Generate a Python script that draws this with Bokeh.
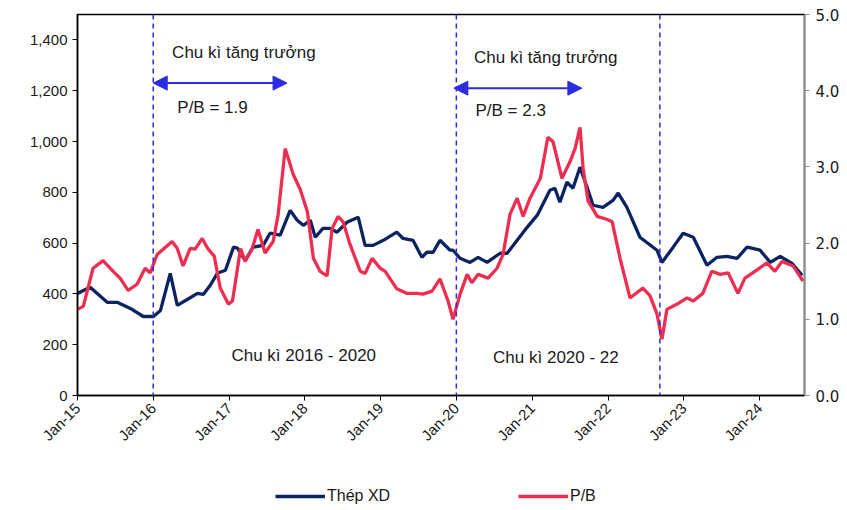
import math
import pandas as pd
from bokeh.plotting import figure
from bokeh.layouts import column
from bokeh.models import (ColumnDataSource, Range1d, LinearAxis, Span, Arrow,
                          NormalHead, Legend, FixedTicker, NumeralTickFormatter,
                          DatetimeTickFormatter)
from bokeh.core.properties import value
from bokeh.embed import file_html
from bokeh.resources import INLINE

# Thép XD (trục trái)
steel_dates = ["2015-01-01", "2015-03-03", "2015-05-24", "2015-07-11", "2015-09-13",
               "2015-11-14", "2016-01-02", "2016-02-05", "2016-03-23", "2016-04-26",
               "2016-06-13", "2016-08-01", "2016-08-29", "2016-10-02", "2016-11-05",
               "2016-12-14", "2017-01-22", "2017-02-10", "2017-03-19", "2017-04-27",
               "2017-06-14", "2017-07-17", "2017-09-04", "2017-10-22", "2017-11-25",
               "2017-12-24", "2018-01-27", "2018-02-20", "2018-03-29", "2018-05-02",
               "2018-06-05", "2018-07-23", "2018-09-15", "2018-10-18", "2018-11-26",
               "2019-01-14", "2019-03-20", "2019-04-18", "2019-06-06", "2019-07-19",
               "2019-08-12", "2019-09-11", "2019-10-14", "2019-12-02", "2019-12-16",
               "2020-01-19", "2020-03-07", "2020-04-15", "2020-05-28", "2020-07-30",
               "2020-09-02", "2020-10-20", "2020-12-07", "2021-01-25", "2021-03-27",
               "2021-04-20", "2021-05-14", "2021-06-17", "2021-07-16", "2021-08-19",
               "2021-09-22", "2021-10-21", "2021-12-08", "2022-01-26", "2022-02-19",
               "2022-04-02", "2022-06-04", "2022-08-25", "2022-09-18", "2022-11-11",
               "2022-12-29", "2023-02-16", "2023-04-23", "2023-06-10", "2023-07-28",
               "2023-09-15", "2023-11-02", "2024-01-04", "2024-02-22", "2024-04-10",
               "2024-06-06", "2024-07-24"]
steel = [402, 426, 367, 367, 343, 311, 311, 335, 481, 355,
         378, 402, 398, 434, 481, 493, 584, 580, 532, 584,
         591, 639, 631, 729, 690, 670, 690, 623, 658, 658,
         643, 682, 702, 591, 591, 611, 643, 619, 611, 544,
         564, 564, 611, 572, 572, 540, 524, 544, 524, 560,
         560, 611, 662, 710, 808, 816, 761, 840, 816, 899,
         820, 749, 741, 769, 797, 741, 623, 572, 524, 584,
         639, 623, 513, 544, 548, 540, 584, 572, 524, 548,
         520, 473]

# P/B (trục phải)
pb_dates = ["2015-01-01", "2015-01-29", "2015-03-17", "2015-05-04", "2015-06-22",
            "2015-07-25", "2015-09-02", "2015-10-15", "2015-11-23", "2015-12-17",
            "2016-01-20", "2016-02-18", "2016-04-01", "2016-04-26", "2016-05-24",
            "2016-06-27", "2016-07-21", "2016-08-24", "2016-09-22", "2016-10-21",
            "2016-11-19", "2016-12-28", "2017-01-17", "2017-02-25", "2017-03-19",
            "2017-04-22", "2017-05-20", "2017-06-23", "2017-08-01", "2017-08-25",
            "2017-09-28", "2017-11-06", "2017-12-10", "2018-01-13", "2018-02-11",
            "2018-03-15", "2018-04-18", "2018-05-12", "2018-06-10", "2018-07-04",
            "2018-08-07", "2018-09-25", "2018-10-18", "2018-11-21", "2018-12-30",
            "2019-01-23", "2019-03-20", "2019-05-08", "2019-06-25", "2019-07-24",
            "2019-09-06", "2019-10-14", "2019-11-22", "2019-12-16", "2020-01-19",
            "2020-02-22", "2020-03-16", "2020-04-15", "2020-06-02", "2020-07-15",
            "2020-08-13", "2020-09-16", "2020-10-20", "2020-11-18", "2020-12-21",
            "2021-02-09", "2021-03-17", "2021-04-11", "2021-05-24", "2021-07-02",
            "2021-07-26", "2021-08-19", "2021-09-03", "2021-09-27", "2021-11-10",
            "2021-12-28", "2022-01-21", "2022-02-28", "2022-04-17", "2022-06-18",
            "2022-07-22", "2022-08-25", "2022-09-18", "2022-10-12", "2022-11-30",
            "2023-01-17", "2023-02-16", "2023-04-03", "2023-05-16", "2023-06-25",
            "2023-08-03", "2023-09-19", "2023-10-23", "2023-12-10", "2024-02-06",
            "2024-03-15", "2024-04-19", "2024-06-11", "2024-07-29"]
pb = [1.13, 1.17, 1.67, 1.77, 1.63, 1.54, 1.38, 1.46, 1.67, 1.61,
      1.85, 1.92, 2.02, 1.93, 1.70, 1.93, 1.92, 2.06, 1.92, 1.83,
      1.41, 1.20, 1.24, 1.93, 1.76, 1.93, 2.18, 1.87, 2.02, 2.37,
      3.24, 2.90, 2.70, 2.41, 1.80, 1.63, 1.57, 2.19, 2.35, 2.28,
      1.98, 1.63, 1.60, 1.80, 1.67, 1.63, 1.40, 1.34, 1.34, 1.33,
      1.37, 1.53, 1.24, 1.00, 1.33, 1.59, 1.48, 1.59, 1.54, 1.67,
      1.85, 2.38, 2.59, 2.35, 2.59, 2.85, 3.39, 3.33, 2.85, 3.07,
      3.24, 3.52, 2.98, 2.55, 2.35, 2.31, 2.28, 1.80, 1.28, 1.41,
      1.31, 1.07, 0.74, 1.13, 1.20, 1.28, 1.24, 1.34, 1.63, 1.59,
      1.61, 1.34, 1.54, 1.63, 1.74, 1.63, 1.76, 1.70, 1.50]

tick_years = list(range(2015, 2025))
cycle_lines = ["2016-01-01", "2020-01-01", "2022-09-08"]

# mũi tên chu kì tăng trưởng: (bắt đầu, kết thúc, mức trục trái)
arrow_start = ["2016-01-01", "2019-12-20"]
arrow_end = ["2017-10-07", "2021-08-28"]
arrow_level = [1230, 1210]

note_text = ["Chu kì tăng trưởng", "P/B = 1.9", "Chu kì tăng trưởng", "P/B = 2.3",
             "Chu kì 2016 - 2020", "Chu kì 2020 - 22"]
note_date = ["2016-04-01", "2016-04-26", "2020-03-26", "2020-04-02",
             "2017-01-12", "2020-06-26"]
note_level = [1352, 1135, 1329, 1124, 158, 150]

NAVY = "#0b2461"
RED = "#ee2e50"
BLUE = "#2b2be0"
FONT = "Liberation Sans"


def ms(d):
    return pd.Timestamp(d).timestamp() * 1000


p = figure(width=847, height=470, x_axis_type="datetime",
           x_range=Range1d(pd.Timestamp("2015-01-01"), pd.Timestamp("2024-08-05")),
           y_range=Range1d(0, 1500),
           output_backend="svg", toolbar_location=None, tools="",
           min_border_left=77, min_border_right=43, min_border_top=14,
           min_border_bottom=75)
p.extra_y_ranges = {"pb": Range1d(0, 5)}
p.xgrid.grid_line_color = None
p.ygrid.grid_line_color = None
p.outline_line_color = "black"
p.outline_line_width = 1.5

# trục
p.yaxis.ticker = FixedTicker(ticks=list(range(0, 1401, 200)))
p.yaxis.formatter = NumeralTickFormatter(format="0,0")
p.xaxis.ticker = FixedTicker(ticks=[ms(f"{y}-01-01") for y in tick_years])
p.xaxis.formatter = DatetimeTickFormatter(years="%b-%y", months="%b-%y", days="%b-%y")
p.xaxis.major_label_orientation = math.pi / 4
for ax in (p.xaxis[0], p.yaxis[0]):
    ax.axis_line_color = "black"
    ax.axis_line_width = 1.5
    ax.major_tick_line_color = "black"
    ax.major_tick_in = 0
    ax.major_tick_out = 5
    ax.minor_tick_line_color = None
    ax.major_label_text_font = FONT
    ax.major_label_text_font_size = "15px"
    ax.major_label_text_color = "#1a1a1a"

right = LinearAxis(y_range_name="pb", ticker=FixedTicker(ticks=[0, 1, 2, 3, 4, 5]),
                   formatter=NumeralTickFormatter(format="0.0"))
right.axis_line_color = "#8a8a8a"
right.axis_line_width = 1.5
right.major_tick_line_color = "#8a8a8a"
right.major_tick_in = 0
right.major_tick_out = 5
right.minor_tick_line_color = None
right.major_label_standoff = 6
right.major_label_text_font = "DejaVu Sans"
right.major_label_text_font_size = "15px"
right.major_label_text_color = "#1a1a1a"
p.add_layout(right, "right")

# đường chu kì
for d in cycle_lines:
    p.add_layout(Span(location=ms(d), dimension="height", line_color=BLUE,
                      line_dash="5 4", line_width=1.5))

r_steel = p.line(pd.to_datetime(steel_dates), steel, line_color=NAVY, line_width=3.3)
r_pb = p.line(pd.to_datetime(pb_dates), pb, line_color=RED, line_width=3.3,
              y_range_name="pb")

for s, e, lv in zip(arrow_start, arrow_end, arrow_level):
    p.add_layout(Arrow(x_start=ms(s), y_start=lv, x_end=ms(e), y_end=lv,
                       line_color=BLUE, line_width=2,
                       start=NormalHead(size=14, fill_color=BLUE, line_color=BLUE),
                       end=NormalHead(size=14, fill_color=BLUE, line_color=BLUE)))

notes = ColumnDataSource(dict(x=pd.to_datetime(note_date), y=note_level, t=note_text))
p.text(x="x", y="y", text="t", source=notes, text_font=value(FONT),
       text_font_size="17px", text_color="#1a1a1a", text_baseline="middle",
       text_align="left")

# chú thích đặt trong một hình riêng phía dưới (dữ liệu nằm ngoài vùng nhìn)
leg_fig = figure(width=847, height=40, output_backend="svg", toolbar_location=None,
                 tools="", x_axis_location=None, y_axis_location=None,
                 x_range=Range1d(0, 1), y_range=Range1d(0, 1),
                 min_border=0, outline_line_color=None)
leg_fig.xgrid.grid_line_color = None
leg_fig.ygrid.grid_line_color = None
l_steel = leg_fig.line(pd.to_datetime(steel_dates), steel, line_color=NAVY, line_width=3.5)
l_pb = leg_fig.line(pd.to_datetime(pb_dates), pb, line_color=RED, line_width=3.5)

leg1 = Legend(items=[("Thép XD", [l_steel])], location=(198, 4))
leg2 = Legend(items=[("P/B", [l_pb])], location=(441, 4))
for lg in (leg1, leg2):
    lg.border_line_color = None
    lg.background_fill_alpha = 0
    lg.padding = 0
    lg.margin = 0
    lg.glyph_width = 50
    lg.label_standoff = 2
    lg.label_text_font = FONT
    lg.label_text_font_size = "16px"
    lg.label_text_color = "#1a1a1a"
    leg_fig.add_layout(lg, "center")

layout = column(p, leg_fig, spacing=0)
open("out.html", "w").write(file_html(layout, INLINE))
